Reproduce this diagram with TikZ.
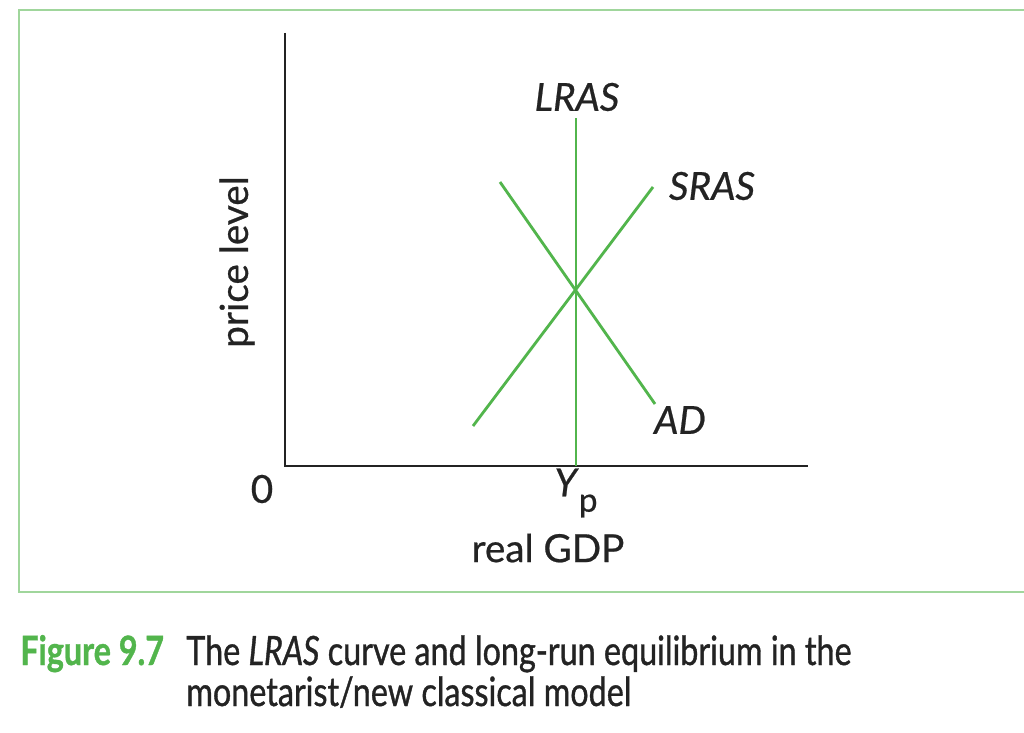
\documentclass[tikz,border=0pt]{standalone}
\usepackage{fontspec}
\setmainfont{Lato}
\newfontfamily\lblfont[FakeBold=0.6]{Lato}
\newfontfamily\capfont[FakeStretch=0.8,FakeBold=0.9]{Lato}
\definecolor{curvegreen}{RGB}{82,181,76}
\definecolor{framegreen}{RGB}{160,214,156}
\definecolor{axisgrey}{RGB}{35,35,35}
\tikzset{
  axis/.style={axisgrey, line width=1.7pt},
  curve/.style={curvegreen, line width=1.6pt},
  lbl/.style={font=\lblfont\fontsize{22}{26}\selectfont, text=axisgrey}
}
\begin{document}
\begin{tikzpicture}[x=0.02cm,y=-0.02cm]
    \useasboundingbox (0,0) rectangle (1024,733);
    \fill[white] (0,0) rectangle (1024,733);
    \draw[framegreen, line width=1.1pt] (19,10) rectangle (1060,592);
    % axes
    \coordinate (O) at (285,466);
    \coordinate (ytop) at (285,33);
    \coordinate (xend) at (808,466);
    \draw[axis] (ytop) -- (O) -- (xend);
    \node[lbl] (zero) at (262,489) {0};
    \node[lbl, rotate=90] (ylab) at (237,262) {price level};
    % curves
    \coordinate (lrasbot) at (576,466);
    \coordinate (lrastop) at (576,118);
    \coordinate (srasbot) at (473,426);
    \coordinate (srastop) at (653,187);
    \coordinate (adtop) at (500,182);
    \coordinate (adbot) at (655,404);
    \draw[curve] (lrasbot) -- (lrastop);
    \draw[curve] (srasbot) -- (srastop);
    \draw[curve] (adtop) -- (adbot);
    \node[lbl] (lras) at (577,97) {\itshape LRAS};
    \node[lbl] (sras) at (712,186) {\itshape SRAS};
    \node[lbl] (ad) at (680,420) {\itshape AD};
    \node[lbl] (yp) at (576,493) {\itshape Y\hspace{0.05em}\raisebox{-0.4em}{\upshape\fontsize{19}{22}\selectfont p}};
    \node[lbl] (xlab) at (548,548) {real GDP};
    % caption
    \node[anchor=base west, inner sep=0pt, font=\capfont\bfseries\fontsize{23}{27}\selectfont, text=curvegreen] (fignum) at (20,665) {Figure 9.7};
    \node[anchor=base west, inner sep=0pt, font=\capfont\fontsize{23}{27}\selectfont, text=axisgrey] (caption) at (186,665)
        {The \textit{LRAS} curve and long-run equilibrium in the};
    \node[anchor=base west, inner sep=0pt, font=\capfont\fontsize{23}{27}\selectfont, text=axisgrey] (caption2) at (186,706)
        {monetarist/new classical model};
\end{tikzpicture}
\end{document}
